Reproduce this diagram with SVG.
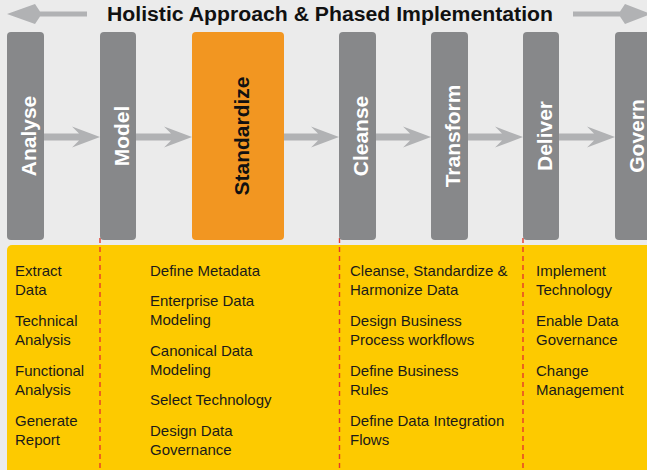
<svg xmlns="http://www.w3.org/2000/svg" width="647" height="470" viewBox="0 0 647 470">
<style>
.bg{fill:#ebebeb}
.bar{fill:#87888a}
.hl{fill:#f29621}
.arr{fill:#b1b2b4}
.panel{fill:#fdca00}
.sep{stroke:#e5392b;stroke-width:1.4;stroke-dasharray:5 4;fill:none}
.lbl{font-family:"Liberation Sans",Arial,Helvetica,sans-serif;font-weight:bold;font-size:21px;fill:#ffffff;text-anchor:middle}
.lbl.dark{fill:#111111}
.title{font-family:"Liberation Sans",Arial,Helvetica,sans-serif;font-weight:bold;font-size:20px;fill:#111111}
.item{font-family:"Liberation Sans",Arial,Helvetica,sans-serif;font-size:15px;fill:#1a1a1a}
</style>
<rect class="bg" x="0" y="0" width="647" height="470"/>
<g id="title">
<path class="arr" d="M87,11.5 H40 L35,4 L7,14 L35,24 L40,16.5 H87 Z"/>
<path class="arr" d="M573,11.5 H620 L625,4 L651,14 L625,24 L620,16.5 H573 Z"/>
<text class="title" x="107" y="21" textLength="446" lengthAdjust="spacingAndGlyphs">Holistic Approach &amp; Phased Implementation</text>
</g>
<rect id="panel" class="panel" x="7" y="245" width="660" height="240" rx="5"/>
<g id="connectors">
<path class="arr" d="M44,133.5 H79 L72,126.5 L100,137 L72,147.5 L79,140.5 H44 Z"/>
<path class="arr" d="M136,133.5 H171 L164,126.5 L192,137 L164,147.5 L171,140.5 H136 Z"/>
<path class="arr" d="M284,133.5 H318 L311,126.5 L339,137 L311,147.5 L318,140.5 H284 Z"/>
<path class="arr" d="M376,133.5 H410 L403,126.5 L431,137 L403,147.5 L410,140.5 H376 Z"/>
<path class="arr" d="M468,133.5 H502 L495,126.5 L523,137 L495,147.5 L502,140.5 H468 Z"/>
<path class="arr" d="M559,133.5 H594 L587,126.5 L615,137 L587,147.5 L594,140.5 H559 Z"/>
<line class="sep" x1="100" y1="238" x2="100" y2="470"/>
<line class="sep" x1="339.5" y1="238" x2="339.5" y2="470"/>
<line class="sep" x1="523" y1="238" x2="523" y2="470"/>
</g>
<g id="analyse">
<rect class="bar" x="7" y="32" width="37" height="208" rx="4"/>
<text class="lbl" transform="translate(36,136) rotate(-90)">Analyse</text>
</g>
<g id="model">
<rect class="bar" x="100" y="32" width="36" height="208" rx="4"/>
<text class="lbl" transform="translate(128.5,136) rotate(-90)">Model</text>
</g>
<g id="standardize">
<rect class="hl" x="192" y="32" width="92" height="208" rx="4"/>
<text class="lbl dark" transform="translate(249,136) rotate(-90)">Standardize</text>
</g>
<g id="cleanse">
<rect class="bar" x="339" y="32" width="37" height="208" rx="4"/>
<text class="lbl" transform="translate(368,136) rotate(-90)">Cleanse</text>
</g>
<g id="transform">
<rect class="bar" x="431" y="32" width="37" height="208" rx="4"/>
<text class="lbl" transform="translate(460,136) rotate(-90)">Transform</text>
</g>
<g id="deliver">
<rect class="bar" x="523" y="32" width="36" height="208" rx="4"/>
<text class="lbl" transform="translate(551.5,136) rotate(-90)">Deliver</text>
</g>
<g id="govern">
<rect class="bar" x="615" y="32" width="40" height="208" rx="4"/>
<text class="lbl" transform="translate(644,136) rotate(-90)">Govern</text>
</g>
<g id="col-analyse" class="item">
<text class="item" x="15" y="275.5">Extract</text>
<text class="item" x="15" y="294.5">Data</text>
<text class="item" x="15" y="325.5">Technical</text>
<text class="item" x="15" y="344.5">Analysis</text>
<text class="item" x="15" y="375.5">Functional</text>
<text class="item" x="15" y="394.5">Analysis</text>
<text class="item" x="15" y="425.5">Generate</text>
<text class="item" x="15" y="444.5">Report</text>
</g>
<g id="col-model">
<text class="item" x="150" y="275.5">Define Metadata</text>
<text class="item" x="150" y="306">Enterprise Data</text>
<text class="item" x="150" y="325">Modeling</text>
<text class="item" x="150" y="355.5">Canonical Data</text>
<text class="item" x="150" y="374.5">Modeling</text>
<text class="item" x="150" y="405">Select Technology</text>
<text class="item" x="150" y="435.5">Design Data</text>
<text class="item" x="150" y="454.5">Governance</text>
</g>
<g id="col-cleanse">
<text class="item" x="350" y="275.5">Cleanse, Standardize &amp;</text>
<text class="item" x="350" y="294.5">Harmonize Data</text>
<text class="item" x="350" y="325.5">Design Business</text>
<text class="item" x="350" y="344.5">Process workflows</text>
<text class="item" x="350" y="375.5">Define Business</text>
<text class="item" x="350" y="394.5">Rules</text>
<text class="item" x="350" y="425.5">Define Data Integration</text>
<text class="item" x="350" y="444.5">Flows</text>
</g>
<g id="col-deliver">
<text class="item" x="536" y="275.5">Implement</text>
<text class="item" x="536" y="294.5">Technology</text>
<text class="item" x="536" y="325.5">Enable Data</text>
<text class="item" x="536" y="344.5">Governance</text>
<text class="item" x="536" y="375.5">Change</text>
<text class="item" x="536" y="394.5">Management</text>
</g>
</svg>
